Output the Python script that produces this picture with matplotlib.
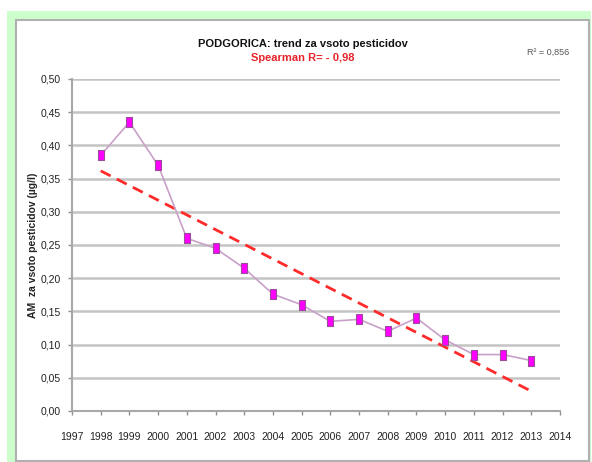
import numpy as np
import matplotlib.pyplot as plt
from matplotlib.patches import Rectangle

plt.rcParams['font.family'] = ['Liberation Sans', 'DejaVu Sans']

years = [1998, 1999, 2000, 2001, 2002, 2003, 2004, 2005,
         2006, 2007, 2008, 2009, 2010, 2011, 2012, 2013]
values = [0.385, 0.435, 0.370, 0.260, 0.245, 0.215, 0.176, 0.160,
          0.135, 0.138, 0.120, 0.140, 0.107, 0.085, 0.085, 0.076]
yticks = np.arange(0, 0.501, 0.05)
xticks = list(range(1997, 2015))

W, H = 592, 462
fig = plt.figure(figsize=(W / 100, H / 100), dpi=100)
fig.patch.set_facecolor('white')

# green frame + grey panel (pixel coords -> figure fraction)
def box(x0, y0, x1, y1, **kw):
    fig.patches.append(Rectangle((x0 / W, 1 - y1 / H), (x1 - x0) / W, (y1 - y0) / H,
                                 transform=fig.transFigure, zorder=-10, **kw))

box(7, 11, 591, 462, facecolor='#ccffcc', edgecolor='none')
box(16, 20, 589, 461, facecolor='white', edgecolor='#b0b0b0', linewidth=1.5)

ax = fig.add_axes([72 / W, 1 - 411 / H, (560 - 72) / W, (411 - 79) / H])
ax.patch.set_alpha(0)
ax.set_xlim(1997, 2014)
ax.set_ylim(0, 0.5)

for v in yticks[1:]:
    ax.axhline(v, color='#c4c4c4', linewidth=1.8, zorder=1)

# linear trend (Excel-like trendline)
k, b = np.polyfit(years, values, 1)
tx = np.array([years[0], years[-1]])
ax.plot(tx, k * tx + b, color='#ff2a2a', linestyle=(0, (4, 2.5)), linewidth=2, zorder=2)

tall_sq = [(-0.7, -1), (0.7, -1), (0.7, 1), (-0.7, 1), (-0.7, -1)]
ax.plot(years, values, color='#c8a0c8', linewidth=1.2, marker=tall_sq, markersize=6.5,
        markerfacecolor='#ff00ff', markeredgecolor='#9a4f9a', markeredgewidth=0.8, zorder=3)

ax.set_xticks(xticks)
ax.set_xticklabels([str(x) for x in xticks], fontsize=7.5)
ax.set_yticks(yticks)
ax.set_yticklabels([f'{v:.2f}'.replace('.', ',') for v in yticks], fontsize=7.5)
ax.tick_params(axis='both', color='#909090', length=3, width=1, labelcolor='#222222')
ax.tick_params(axis='x', pad=12)
ax.tick_params(axis='y', pad=5)
for s in ['top', 'right']:
    ax.spines[s].set_visible(False)
for s in ['left', 'bottom']:
    ax.spines[s].set_color('#a8a8a8')
    ax.spines[s].set_linewidth(1.5)

ax.set_ylabel('AM  za vsoto pesticidov (µg/l)', fontsize=7.5, fontweight='bold', color='#222222')
ax.yaxis.set_label_coords((38 - 72) / 488, 0.5)

fig.text(303 / W, 1 - 44 / H, 'PODGORICA: trend za vsoto pesticidov', ha='center', va='center',
         fontsize=8, fontweight='bold', color='#111111')
fig.text(303 / W, 1 - 58 / H, 'Spearman R= - 0,98', ha='center', va='center',
         fontsize=8, fontweight='bold', color='#e8232a')
fig.text(548 / W, 1 - 52 / H, 'R² = 0,856', ha='center', va='center', fontsize=6.5, color='#555555')

fig.savefig('out.png', dpi=100)
